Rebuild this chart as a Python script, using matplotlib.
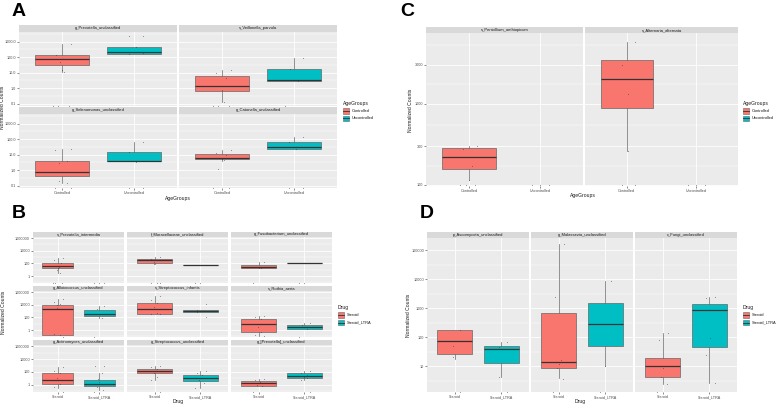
import numpy as np
import matplotlib
matplotlib.use("Agg")
import matplotlib.pyplot as plt
from matplotlib.patches import Rectangle
from matplotlib.lines import Line2D

plt.rcParams['font.family'] = ['Liberation Sans', 'DejaVu Sans']

RED = '#F8766D'
CYAN = '#00BFC4'

# ---------------- Panel A ----------------
A_titles = ['g_Prevotella_unclassified', 's_Veillonella_parvula',
            'g_Selenomonas_unclassified', 'g_Catonella_unclassified']
A_groups = ['Controlled', 'Uncontrolled']
# per facet: [Controlled, Uncontrolled]
A_q1 = [[30, 155], [0.64, 2.8], [0.41, 3.8], [5.0, 22]]
A_med = [[74, 210], [1.35, 3.3], [0.74, 3.8], [5.9, 30]]
A_q3 = [[134, 440], [6.0, 17], [3.8, 14], [10.6, 62]]
A_lo = [[10.8, 155], [0.12, 2.8], [0.15, 3.8], [3.8, 22]]
A_hi = [[690, 440], [14.5, 86], [22, 62], [19, 130]]
A_pts = [
    [[690, 134, 74, 47, 15, 11, 0, 0, 0], [2300, 2300, 440, 210, 155, 180]],
    [[14.5, 10, 4.5, 1.4, 0.7, 0.12, 0, 0, 0], [86, 17, 3.3, 2.8, 0]],
    [[22, 20, 4, 3, 0.74, 0.7, 0.2, 0.15, 0, 0], [62, 14, 3.8, 3.5, 0, 0]],
    [[19, 13, 10, 6, 5, 4.5, 1.16, 0, 0], [130, 62, 30, 22, 0, 0]],
]
A_yticks = [0.1, 1, 10, 100, 1000]
A_ylabels = ['0.1', '1.0', '10.0', '100.0', '1000.0']

# ---------------- Panel C ----------------
C_titles = ['s_Penicillium_aethiopicum', 's_Alternaria_alternata']
C_q1 = [[157, None], [890, None]]
C_med = [[219, None], [2000, None]]
C_q3 = [[284, None], [3470, None]]
C_lo = [[115, None], [260, None]]
C_hi = [[300, None], [5700, None]]
C_pts = [
    [[300, 280, 170, 115, 0, 0, 0], [0, 0, 0]],
    [[5700, 3000, 1320, 260, 0, 0], [0, 0, 0]],
]
C_yticks = [100, 300, 1000, 3000]
C_ylabels = ['100', '300', '1000', '3000']

# ---------------- Panel B ----------------
B_titles = ['s_Prevotella_intermedia', 'f_Moraxellaceae_unclassified', 'g_Fusobacterium_unclassified',
            'g_Alloiococcus_unclassified', 's_Streptococcus_infantis', 's_Rothia_aeria',
            'g_Actinomyces_unclassified', 'g_Streptococcus_unclassified', 'g_[Prevotella]_unclassified']
B_groups = ['Steroid', 'Steroid_LTRA']
B_q1 = [[18.6, None], [100, 56], [18.6, 115],
        [0.17, 140], [410, 600], [0.5, 1.4],
        [1.4, 0.7], [60, 4.4], [0.7, 13]]
B_med = [[38, None], [350, 56], [27, 115],
         [2400, 410], [2400, 1000], [8.4, 2.9],
         [6.4, 1.4], [120, 13], [2.2, 28]]
B_q3 = [[100, None], [500, 56], [56, 115],
        [10000, 1700], [20000, 1700], [50, 6],
        [60, 6.4], [260, 40], [4.4, 60]]
B_lo = [[3, None], [80, 56], [18.6, 115],
        [0.17, 70], [300, 600], [0.12, 1.4],
        [0.33, 0.16], [6.4, 0.3], [0.7, 6]]
B_hi = [[720, None], [1000, 56], [166, 115],
        [80000, 7000], [250000, 1700], [200, 12],
        [550, 60], [1000, 120], [9, 120]]
B_pts = [
    [[720, 300, 100, 40, 30, 18, 8, 3, 0, 0, 0], [0, 0, 0]],
    [[1000, 500, 350, 200, 80, 0, 0, 0], [56, 0, 0]],
    [[166, 30, 20, 18, 0], [115, 0, 0]],
    [[80000, 30000, 15000, 10000, 3000, 0.17, 0.2, 0], [7000, 2000, 400, 70, 0]],
    [[250000, 50000, 20000, 5000, 2400, 500, 400, 300], [14000, 1700, 1200, 1000, 800, 100]],
    [[200, 120, 50, 8, 3, 0.5, 0.15, 0.12], [12, 6, 3, 1.5, 0]],
    [[550, 150, 60, 10, 6, 1.4, 0.5, 0], [1000, 1000, 60, 8, 3, 1.4, 0.5, 0.16, 0]],
    [[1000, 500, 260, 120, 60, 20, 6.4, 0], [120, 60, 30, 13, 5, 2, 0.3]],
    [[9, 6, 3, 2, 1, 0.7, 0], [120, 80, 40, 28, 15, 10, 6, 0]],
]
B_yticks = [1, 100, 10000, 1000000]
B_ylabels = ['1', '100', '10000', '1000000']

# ---------------- Panel D ----------------
D_titles = ['p_Ascomycota_unclassified', 'g_Malassezia_unclassified', 'c_Fungi_unclassified']
D_q1 = [[26, 12.7], [8.6, 49], [4.2, 45]]
D_med = [[73, 38.6], [13.7, 281], [10, 850]]
D_q3 = [[174, 49], [671, 1490], [18.9, 1370]]
D_lo = [[17.5, 4.2], [3.9, 10], [2.4, 2.6]]
D_hi = [[174, 67], [160000, 8500], [137, 2400]]
D_pts = [
    [[174, 50, 20, 0], [67, 45, 4.2, 0]],
    [[160000, 2400, 16, 11.7, 8.6, 3.6, 0], [8500, 10, 0]],
    [[137, 79, 10, 8.6, 4.2, 2.4, 0], [2400, 2200, 850, 92, 24, 2.6]],
]
D_yticks = [10, 100, 1000, 10000, 100000]
D_ylabels = ['10', '100', '1000', '10000', '100000']

# ---------------- drawing helpers ----------------
W, H = 778, 405
fig = plt.figure(figsize=(W / 100, H / 100), dpi=100)

TXT = '#4D4D4D'
FS_TICK = 2.7
FS_STRIP = 3.0
FS_TITLE = 3.6


def rect(x0, y0, x1, y1):
    return [x0 / W, 1 - y1 / H, (x1 - x0) / W, (y1 - y0) / H]


def facet(x0, x1, sy0, sy1, py1, title, q1, med, q3, lo, hi, pts, ylim,
          yticks, ylabels, show_y, groups, show_x):
    sax = fig.add_axes(rect(x0, sy0, x1, sy1))
    sax.set_facecolor('#D9D9D9')
    sax.set_xticks([]); sax.set_yticks([])
    for s in sax.spines.values():
        s.set_visible(False)
    sax.text(0.5, 0.5, title, ha='center', va='center', fontsize=FS_STRIP,
             color='#1A1A1A', transform=sax.transAxes)

    ax = fig.add_axes(rect(x0, sy1, x1, py1))
    ax.set_facecolor('#EBEBEB')
    ax.set_yscale('log')
    ax.set_ylim(*ylim)
    ax.set_xlim(0.4, 2.6)
    for s in ax.spines.values():
        s.set_visible(False)
    yt = np.array(yticks, dtype=float)
    lg = np.log10(yt)
    step = lg[1] - lg[0]
    mins = 10 ** np.concatenate([[lg[0] - step / 2], (lg[:-1] + lg[1:]) / 2, [lg[-1] + step / 2]])
    for m in mins:
        ax.axhline(m, color='white', lw=0.3, zorder=0)
    for t in yt:
        ax.axhline(t, color='white', lw=0.6, zorder=0)
    for xc in (1, 2):
        ax.axvline(xc, color='white', lw=0.6, zorder=0)
    ax.minorticks_off()
    ax.set_yticks(yt)
    if show_y:
        ax.set_yticklabels(ylabels)
    else:
        ax.set_yticklabels([])
    ax.set_xticks([1, 2])
    if show_x:
        ax.set_xticklabels(groups)
    else:
        ax.set_xticklabels([])
    ax.tick_params(axis='both', length=1.2, width=0.4, color='#333333',
                   labelsize=FS_TICK, labelcolor=TXT, pad=1)
    if not show_y:
        ax.tick_params(axis='y', length=0)
    if not show_x:
        ax.tick_params(axis='x', length=0)

    colors = [RED, CYAN]
    for i in range(2):
        if q1[i] is not None:
            st = [dict(med=med[i], q1=q1[i], q3=q3[i], whislo=lo[i], whishi=hi[i], fliers=[])]
            ax.bxp(st, positions=[i + 1], widths=0.75, patch_artist=True,
                   showcaps=False, showfliers=False, manage_ticks=False,
                   boxprops=dict(facecolor=colors[i], edgecolor='#666666', lw=0.5),
                   medianprops=dict(color='#333333', lw=0.9),
                   whiskerprops=dict(color='#666666', lw=0.5), zorder=2)
        p = np.array(pts[i], dtype=float)
        p = np.where(p <= 0, ylim[0] * 1.02, p)
        n = len(p)
        off = np.linspace(-0.12, 0.12, n) if n > 1 else np.zeros(1)
        ax.scatter(i + 1 + off[::-1] * np.tile([1, -1], n)[:n], p, s=0.6,
                   color='#333333', alpha=0.55, lw=0, zorder=3, clip_on=False)
    return ax


def legend(x, y, title, labels):
    fig.text(x / W, 1 - y / H, title, fontsize=FS_TITLE, color='#1A1A1A', va='center')
    for k, (lab, c) in enumerate(zip(labels, [RED, CYAN])):
        yy = y + 8 + k * 7.5
        fig.patches.append(Rectangle((x / W, 1 - (yy + 2.7) / H), 6 / W, 5.4 / H,
                                     facecolor=c, edgecolor='#666666', lw=0.4,
                                     transform=fig.transFigure))
        fig.lines.append(Line2D([x / W, (x + 6) / W], [1 - yy / H, 1 - yy / H],
                                color='#333333', lw=0.6, transform=fig.transFigure))
        fig.text((x + 8.5) / W, 1 - yy / H, lab, fontsize=FS_TICK + 0.2, color='#1A1A1A', va='center')


# ---------------- Panel A layout ----------------
A_cols = [(19, 177), (179, 337)]
A_rows = [(25, 32, 106), (107, 114, 188)]
A_ylim = (0.07, 4100)
for k in range(4):
    r, c = divmod(k, 2)
    facet(A_cols[c][0], A_cols[c][1], A_rows[r][0], A_rows[r][1], A_rows[r][2],
          A_titles[k], A_q1[k], A_med[k], A_q3[k], A_lo[k], A_hi[k], A_pts[k],
          A_ylim, A_yticks, A_ylabels, c == 0, A_groups, r == 1)
fig.text(12 / W, 1 - 12 / H, 'A', fontsize=14, fontweight='bold', va='center', ha='left')
fig.text(178 / W, 1 - 198 / H, 'AgeGroups', fontsize=FS_TITLE, color='#1A1A1A', ha='center', va='center')
fig.text(2.5 / W, 1 - 107 / H, 'Normalized Counts', fontsize=FS_TITLE, color='#1A1A1A',
         rotation=90, ha='center', va='center')
legend(343, 103, 'AgeGroups', A_groups)

# ---------------- Panel C layout ----------------
C_cols = [(426, 583), (585, 738)]
C_ylim = (97, 7400)
for k in range(2):
    facet(C_cols[k][0], C_cols[k][1], 27, 33, 186, C_titles[k], C_q1[k], C_med[k], C_q3[k],
          C_lo[k], C_hi[k], C_pts[k], C_ylim, C_yticks, C_ylabels, k == 0, A_groups, True)
fig.text(400 / W, 1 - 12 / H, 'C', fontsize=14, fontweight='bold', va='center', ha='left')
fig.text(583 / W, 1 - 196 / H, 'AgeGroups', fontsize=FS_TITLE, color='#1A1A1A', ha='center', va='center')
fig.text(411 / W, 1 - 110 / H, 'Normalized Counts', fontsize=FS_TITLE, color='#1A1A1A',
         rotation=90, ha='center', va='center')
legend(743, 103, 'AgeGroups', A_groups)

# ---------------- Panel B layout ----------------
B_cols = [(33, 124), (127, 228), (231, 332)]
B_rows = [(232, 237, 283), (286, 291, 337), (340, 345, 392)]
B_ylim = (0.08, 1.5e6)
for k in range(9):
    r, c = divmod(k, 3)
    facet(B_cols[c][0], B_cols[c][1], B_rows[r][0], B_rows[r][1], B_rows[r][2],
          B_titles[k], B_q1[k], B_med[k], B_q3[k], B_lo[k], B_hi[k], B_pts[k],
          B_ylim, B_yticks, B_ylabels, c == 0, B_groups, r == 2)
fig.text(12 / W, 1 - 213 / H, 'B', fontsize=14, fontweight='bold', va='center', ha='left')
fig.text(178 / W, 1 - 401 / H, 'Drug', fontsize=FS_TITLE, color='#1A1A1A', ha='center', va='center')
fig.text(3.5 / W, 1 - 312 / H, 'Normalized Counts', fontsize=FS_TITLE, color='#1A1A1A',
         rotation=90, ha='center', va='center')
legend(338, 307, 'Drug', B_groups)

# ---------------- Panel D layout ----------------
D_cols = [(427, 529), (531, 633), (635, 737)]
D_ylim = (1.27, 2.6e5)
for k in range(3):
    facet(D_cols[k][0], D_cols[k][1], 232, 238, 392, D_titles[k], D_q1[k], D_med[k], D_q3[k],
          D_lo[k], D_hi[k], D_pts[k], D_ylim, D_yticks, D_ylabels, k == 0, B_groups, True)
fig.text(420 / W, 1 - 213 / H, 'D', fontsize=14, fontweight='bold', va='center', ha='left')
fig.text(580 / W, 1 - 401 / H, 'Drug', fontsize=FS_TITLE, color='#1A1A1A', ha='center', va='center')
fig.text(409 / W, 1 - 315 / H, 'Normalized Counts', fontsize=FS_TITLE, color='#1A1A1A',
         rotation=90, ha='center', va='center')
legend(743, 307, 'Drug', B_groups)

fig.savefig('out.png', dpi=100, facecolor='white')
